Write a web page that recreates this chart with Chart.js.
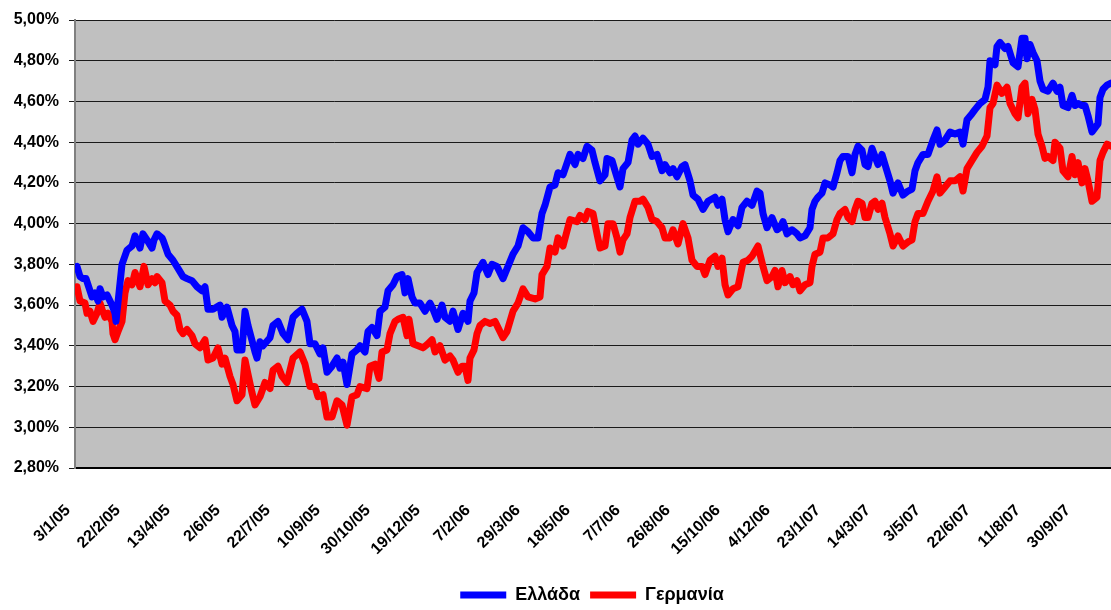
<!DOCTYPE html>
<html lang="el">
<head>
<meta charset="utf-8">
<title>Αποδόσεις 10ετών ομολόγων</title>
<script src="https://cdn.jsdelivr.net/npm/chart.js@4.4.1/dist/chart.umd.min.js"></script>
<style>
  html, body { margin: 0; padding: 0; background: #ffffff; }
  #wrap { width: 1111px; height: 610px; position: relative; }
</style>
</head>
<body>
<div id="wrap"><canvas id="chart"></canvas></div>
<script>
// Days counted from 3/1/05; one axis label every 50 days.
const tickLabels = [
  '3/1/05', '22/2/05', '13/4/05', '2/6/05', '22/7/05', '10/9/05', '30/10/05',
  '19/12/05', '7/2/06', '29/3/06', '18/5/06', '7/7/06', '26/8/06', '15/10/06',
  '4/12/06', '23/1/07', '14/3/07', '3/5/07', '22/6/07', '11/8/07', '30/9/07'
];

const seriesNames = ['Ελλάδα', 'Γερμανία'];

// Ελλάδα: day offset and yield (%)
const greeceDays = [
  2, 5, 8, 11, 17, 20, 23, 25, 28, 32,
  37, 40, 41, 47, 52, 57, 60, 65, 68, 72,
  77, 79, 82, 87, 88, 93, 98, 103, 108, 112,
  117, 122, 127, 130, 133, 138, 145, 147, 152, 157,
  160, 162, 167, 170, 173, 180, 182, 185, 188, 195,
  198, 203, 208, 213, 218, 222, 227, 232, 235, 240,
  245, 248, 252, 257, 262, 265, 268, 272, 277, 282,
  285, 290, 293, 297, 302, 305, 310, 313, 318, 322,
  327, 330, 333, 337, 340, 345, 350, 355, 358, 362,
  367, 370, 375, 378, 383, 388, 393, 395, 399, 402,
  408, 413, 417, 422, 428, 433, 438, 443, 448, 453,
  458, 463, 467, 470, 475, 480, 483, 488, 495, 500,
  503, 508, 512, 517, 520, 525, 530, 532, 537, 540,
  545, 548, 553, 557, 560, 563, 568, 573, 577, 582,
  587, 590, 595, 598, 602, 607, 610, 615, 618, 623,
  628, 633, 640, 643, 647, 650, 653, 658, 663, 667,
  672, 677, 682, 685, 688, 692, 697, 702, 705, 708,
  712, 717, 722, 725, 730, 735, 737, 740, 743, 747,
  750, 755, 758, 762, 765, 768, 773, 777, 780, 783,
  787, 790, 793, 797, 800, 803, 807, 810, 815, 818,
  823, 828, 833, 837, 840, 843, 848, 853, 858, 862,
  865, 870, 875, 880, 885, 888, 892, 897, 900, 905,
  910, 913, 915, 920, 922, 925, 930, 933, 938, 943,
  947, 950, 952, 955, 958, 962, 965, 968, 973, 978,
  982, 985, 988, 993, 997, 1000, 1003, 1007, 1010, 1013,
  1017, 1020, 1023, 1025, 1028, 1032, 1036
];
const greeceYield = [
  3.79, 3.74, 3.73, 3.73, 3.64, 3.66, 3.62, 3.68, 3.64, 3.65,
  3.60, 3.56, 3.52, 3.80, 3.87, 3.89, 3.94, 3.88, 3.95, 3.92,
  3.88, 3.92, 3.95, 3.93, 3.92, 3.85, 3.82, 3.78, 3.74, 3.73,
  3.72, 3.69, 3.67, 3.69, 3.58, 3.58, 3.60, 3.54, 3.59, 3.50,
  3.47, 3.38, 3.38, 3.57, 3.50, 3.37, 3.34, 3.42, 3.40, 3.44,
  3.50, 3.52, 3.46, 3.43, 3.54, 3.56, 3.58, 3.52, 3.41, 3.41,
  3.36, 3.39, 3.27, 3.30, 3.34, 3.29, 3.32, 3.21, 3.36, 3.38,
  3.40, 3.37, 3.47, 3.49, 3.45, 3.57, 3.59, 3.67, 3.70, 3.74,
  3.75, 3.66, 3.73, 3.64, 3.61, 3.61, 3.57, 3.61, 3.58, 3.53,
  3.60, 3.54, 3.52, 3.57, 3.48, 3.56, 3.52, 3.62, 3.66, 3.76,
  3.81, 3.75, 3.80, 3.79, 3.73, 3.79, 3.85, 3.89, 3.98, 3.96,
  3.93, 3.93, 4.05, 4.09, 4.18, 4.19, 4.25, 4.24, 4.34, 4.29,
  4.34, 4.32, 4.38, 4.36, 4.30, 4.21, 4.24, 4.32, 4.31, 4.26,
  4.18, 4.27, 4.30, 4.41, 4.43, 4.39, 4.42, 4.39, 4.33, 4.34,
  4.26, 4.29, 4.25, 4.27, 4.23, 4.28, 4.29, 4.21, 4.14, 4.12,
  4.07, 4.11, 4.13, 4.09, 4.12, 4.02, 3.96, 4.02, 3.99, 4.08,
  4.11, 4.09, 4.16, 4.15, 4.05, 3.98, 4.03, 3.97, 3.98, 4.01,
  3.95, 3.97, 3.95, 3.93, 3.94, 3.98, 4.07, 4.11, 4.13, 4.15,
  4.20, 4.19, 4.18, 4.25, 4.31, 4.33, 4.33, 4.25, 4.34, 4.38,
  4.36, 4.29, 4.28, 4.37, 4.33, 4.29, 4.34, 4.29, 4.21, 4.15,
  4.20, 4.14, 4.16, 4.17, 4.26, 4.30, 4.34, 4.34, 4.41, 4.46,
  4.39, 4.41, 4.45, 4.44, 4.45, 4.39, 4.51, 4.54, 4.56, 4.59,
  4.61, 4.67, 4.80, 4.78, 4.87, 4.89, 4.86, 4.87, 4.79, 4.77,
  4.91, 4.91, 4.81, 4.88, 4.84, 4.80, 4.70, 4.66, 4.65, 4.69,
  4.65, 4.67, 4.58, 4.57, 4.63, 4.58, 4.59, 4.58, 4.58, 4.53,
  4.45, 4.47, 4.49, 4.62, 4.66, 4.68, 4.69
];

// Γερμανία: day offset and yield (%)
const germanyDays = [
  2, 5, 10, 12, 15, 18, 22, 25, 27, 30,
  33, 37, 38, 40, 43, 47, 50, 53, 57, 60,
  65, 69, 73, 77, 80, 82, 87, 90, 95, 98,
  102, 105, 108, 112, 117, 120, 125, 130, 133, 138,
  143, 147, 150, 155, 158, 162, 167, 170, 173, 177,
  180, 185, 190, 195, 198, 203, 207, 212, 218, 225,
  230, 235, 240, 243, 248, 252, 257, 262, 267, 272,
  277, 282, 285, 292, 295, 300, 304, 307, 312, 315,
  320, 323, 328, 332, 334, 338, 343, 348, 353, 357,
  360, 365, 370, 375, 378, 383, 387, 390, 393, 395,
  399, 402, 405, 410, 415, 420, 428, 432, 438, 443,
  448, 453, 460, 465, 467, 472, 475, 480, 483, 488,
  495, 502, 505, 510, 513, 518, 522, 525, 530, 533,
  538, 542, 545, 548, 552, 555, 560, 565, 568, 573,
  577, 582, 587, 590, 595, 598, 603, 608, 613, 617,
  622, 627, 630, 635, 640, 643, 647, 650, 653, 658,
  663, 668, 673, 677, 683, 688, 692, 697, 700, 703,
  707, 710, 715, 718, 722, 725, 730, 735, 737, 740,
  745, 748, 753, 758, 762, 765, 770, 773, 777, 780,
  783, 787, 790, 793, 797, 800, 803, 807, 810, 815,
  818, 823, 828, 833, 837, 840, 843, 848, 853, 858,
  862, 865, 870, 875, 880, 885, 888, 892, 897, 902,
  907, 912, 915, 918, 922, 927, 932, 935, 940, 943,
  947, 950, 953, 957, 960, 963, 967, 970, 973, 978,
  980, 985, 988, 993, 997, 1000, 1003, 1007, 1010, 1013,
  1017, 1022, 1025, 1028, 1032, 1036
];
const germanyYield = [
  3.69, 3.62, 3.61, 3.56, 3.57, 3.52, 3.56, 3.61, 3.58, 3.54,
  3.56, 3.52, 3.46, 3.43, 3.47, 3.52, 3.66, 3.72, 3.70, 3.76,
  3.69, 3.79, 3.70, 3.73, 3.71, 3.74, 3.71, 3.62, 3.60, 3.57,
  3.55, 3.48, 3.46, 3.48, 3.45, 3.41, 3.39, 3.43, 3.33, 3.34,
  3.39, 3.31, 3.34, 3.25, 3.21, 3.13, 3.16, 3.33, 3.26, 3.17,
  3.11, 3.15, 3.22, 3.19, 3.28, 3.30, 3.25, 3.22, 3.34, 3.37,
  3.31, 3.20, 3.20, 3.15, 3.16, 3.05, 3.05, 3.13, 3.11, 3.01,
  3.15, 3.16, 3.20, 3.19, 3.30, 3.31, 3.24, 3.37, 3.38, 3.46,
  3.52, 3.53, 3.54, 3.45, 3.53, 3.41, 3.40, 3.39, 3.41, 3.43,
  3.37, 3.40, 3.33, 3.35, 3.33, 3.27, 3.30, 3.30, 3.23, 3.34,
  3.38, 3.46, 3.50, 3.52, 3.51, 3.52, 3.44, 3.47, 3.57, 3.61,
  3.68, 3.64, 3.63, 3.64, 3.75, 3.79, 3.88, 3.86, 3.93, 3.89,
  4.02, 4.01, 4.04, 4.02, 4.06, 4.05, 3.95, 3.88, 3.89, 4.00,
  4.00, 3.93, 3.86, 3.92, 3.95, 4.03, 4.11, 4.11, 4.12, 4.08,
  4.02, 4.01, 3.98, 3.93, 3.93, 3.97, 3.90, 4.00, 3.93, 3.82,
  3.79, 3.79, 3.75, 3.82, 3.84, 3.79, 3.83, 3.70, 3.65, 3.68,
  3.69, 3.81, 3.82, 3.84, 3.89, 3.79, 3.72, 3.74, 3.77, 3.69,
  3.77, 3.71, 3.74, 3.70, 3.72, 3.67, 3.70, 3.71, 3.79, 3.85,
  3.86, 3.93, 3.93, 3.95, 4.02, 4.05, 4.07, 4.03, 4.01, 4.07,
  4.11, 4.10, 4.03, 4.03, 4.10, 4.11, 4.07, 4.10, 4.03, 3.95,
  3.89, 3.94, 3.89, 3.91, 3.92, 4.01, 4.05, 4.05, 4.11, 4.16,
  4.23, 4.15, 4.18, 4.21, 4.21, 4.23, 4.16, 4.27, 4.31, 4.35,
  4.38, 4.43, 4.57, 4.59, 4.68, 4.64, 4.67, 4.59, 4.54, 4.52,
  4.67, 4.69, 4.54, 4.61, 4.56, 4.44, 4.38, 4.32, 4.33, 4.31,
  4.40, 4.37, 4.26, 4.23, 4.33, 4.24, 4.30, 4.20, 4.27, 4.21,
  4.11, 4.13, 4.31, 4.35, 4.39, 4.38
];

const toPoints = (days, values) => days.map((d, i) => ({ x: d, y: values[i] }));

const PLOT_BOTTOM = 468;     // lower edge of the plot area
const LEGEND_CENTER_X = 592; // legend row centre
const LEGEND_CENTER_Y = 595;

// Grey plot area behind the lines
const plotBackground = {
  id: 'plotBackground',
  beforeDraw(chart) {
    const { ctx, chartArea: a } = chart;
    ctx.save();
    ctx.fillStyle = '#c0c0c0';
    ctx.fillRect(a.left, a.top, a.right - a.left, a.bottom - a.top);
    ctx.restore();
  }
};

// Nudge the legend row under the plot to its place
const legendPlacement = {
  id: 'legendPlacement',
  afterLayout(chart) {
    const lg = chart.legend;
    if (!lg || !lg.lineWidths) return;
    const rowWidth = lg.lineWidths[0];
    const dx = LEGEND_CENTER_X - (lg.left + lg.width / 2);
    const dy = LEGEND_CENTER_Y - (lg.top + lg.height / 2);
    lg.left += dx; lg.right += dx;
    lg.top += dy; lg.bottom += dy;
    if (lg.legendHitBoxes) {
      lg.legendHitBoxes.forEach(b => { b.left += dx; b.top += dy; });
    }
  }
};

Chart.defaults.font.family = '"Liberation Sans", Arial, sans-serif';
Chart.defaults.font.weight = 'bold';
Chart.defaults.color = '#000000';

new Chart(document.getElementById('chart'), {
  type: 'line',
  data: {
    datasets: [
      {
        label: seriesNames[0],
        data: toPoints(greeceDays, greeceYield),
        borderColor: '#0000ff',
        backgroundColor: '#0000ff',
        borderWidth: 7,
        borderCapStyle: 'round',
        borderJoinStyle: 'round',
        pointRadius: 0,
        tension: 0
      },
      {
        label: seriesNames[1],
        data: toPoints(germanyDays, germanyYield),
        borderColor: '#ff0000',
        backgroundColor: '#ff0000',
        borderWidth: 7,
        borderCapStyle: 'round',
        borderJoinStyle: 'round',
        pointRadius: 0,
        tension: 0
      }
    ]
  },
  options: {
    responsive: true,
    maintainAspectRatio: false,
    animation: false,
    layout: { padding: { top: 20, right: 0, bottom: 0, left: 0 } },
    plugins: {
      tooltip: { enabled: false },
      legend: {
        position: 'bottom',
        labels: {
          usePointStyle: true,
          pointStyle: 'line',
          pointStyleWidth: 46,
          boxHeight: 7,
          padding: 10,
          font: { size: 18, weight: 'bold' },
          color: '#000000'
        }
      }
    },
    scales: {
      x: {
        type: 'linear',
        min: 0,
        max: 1036,
        afterBuildTicks(scale) {
          scale.ticks = scale.ticks.filter(t => t.value % 50 === 0);
        },
        afterFit(scale) {
          const lg = scale.chart.legend;
          const legendHeight = lg ? lg.height : 0;
          scale.height = scale.chart.height - legendHeight - PLOT_BOTTOM;
          scale.paddingRight = 0;
        },
        ticks: {
          stepSize: 50,
          autoSkip: false,
          maxRotation: 45,
          minRotation: 45,
          padding: 33,
          labelOffset: -7,
          font: { size: 16, weight: 'bold' },
          color: '#000000',
          callback: (v) => tickLabels[Math.round(v / 50)]
        },
        grid: { display: false, drawTicks: false },
        border: { display: true, color: '#000000', width: 2 }
      },
      y: {
        min: 2.8,
        max: 5.0,
        afterFit(scale) { scale.width = 75; },
        ticks: {
          stepSize: 0.2,
          padding: 10,
          font: { size: 16, weight: 'bold' },
          color: '#000000',
          callback: (v) => v.toFixed(2).replace('.', ',') + '%'
        },
        grid: {
          color: '#1a1a1a',
          lineWidth: 1,
          drawTicks: true,
          tickLength: 6
        },
        border: { display: true, color: '#808080', width: 2 }
      }
    }
  },
  plugins: [plotBackground, legendPlacement]
});
</script>
</body>
</html>
